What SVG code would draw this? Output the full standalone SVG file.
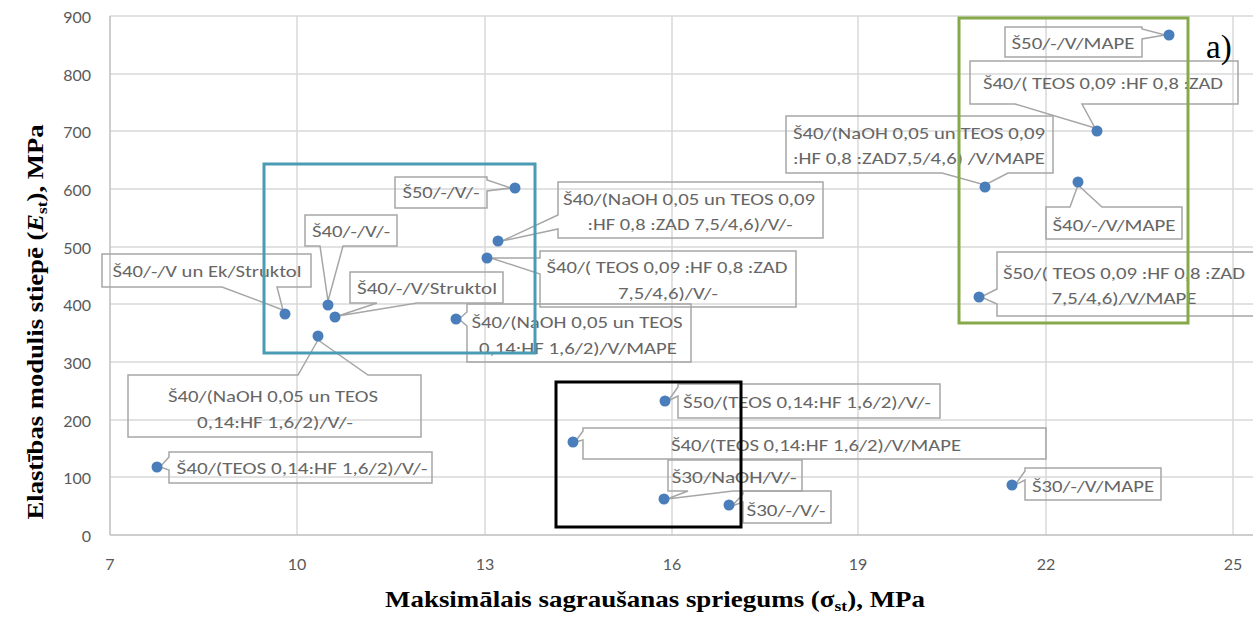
<svg xmlns="http://www.w3.org/2000/svg" width="1253" height="617" viewBox="0 0 1253 617">
<style>
.grid{stroke:#d9d9d9;stroke-width:1.5;fill:none}
.axis{stroke:#bfbfbf;stroke-width:1.5;fill:none}
.tick{font-family:Lato,"Liberation Sans",sans-serif;font-size:16px;fill:#595959}
.call{fill:none;stroke:#a6a6a6;stroke-width:1.5;stroke-linejoin:miter}
.lbl{font-family:Carlito,Lato,"Liberation Sans",sans-serif;font-size:17px;fill:#666666;text-anchor:middle;dominant-baseline:central}
.pt{fill:#4a7ebb}
.title{font-family:"Liberation Serif","Times New Roman",serif;font-weight:bold;font-size:23px;fill:#000}
</style>
<rect width="1253" height="617" fill="#ffffff"/>
<g id="grid">
<path class="grid" d="M110,16H1253M110,74H1253M110,131H1253M110,189H1253M110,247H1253M110,304H1253M110,362H1253M110,420H1253M110,477H1253"/>
<path class="grid" d="M297,16V535M485,16V535M672,16V535M858,16V535M1046,16V535M1233,16V535"/>
<path class="axis" d="M110,16V535M110,535H1253"/>
</g>
<g id="y-ticks" class="tick" text-anchor="end" dominant-baseline="central">
<text x="91" y="16">900</text><text x="91" y="74">800</text><text x="91" y="131">700</text><text x="91" y="189">600</text><text x="91" y="247">500</text><text x="91" y="304">400</text><text x="91" y="362">300</text><text x="91" y="420">200</text><text x="91" y="477">100</text><text x="91" y="535">0</text>
</g>
<g id="x-ticks" class="tick" text-anchor="middle" dominant-baseline="central">
<text x="110" y="563">7</text><text x="297" y="563">10</text><text x="485" y="563">13</text><text x="672" y="563">16</text><text x="858" y="563">19</text><text x="1046" y="563">22</text><text x="1233" y="563">25</text>
</g>
<g id="connectors">
<path class="call" d="M1005,27H1142V29L1165,35L1142,39V57H1005Z"/>
<path class="call" d="M970,61H1238V104H1082L1095,128L1015,104H970Z"/>
<path class="call" d="M786,116H1053V173H1008L985,185L942,173H786Z"/>
<path class="call" d="M1046,207H1070L1078,185L1102,207H1182V239H1046Z"/>
<path class="call" d="M997,252H1262V316H997V304L981,297L997,289Z"/>
<path class="call" d="M395,177H487V180L511,188L487,191V208H395Z"/>
<path class="call" d="M558,182H823V238H558V229L502,241L558,215Z"/>
<path class="call" d="M540,251H796V307H540V274L491,258L540,258Z"/>
<path class="call" d="M467,304H691V362H467V326L459,319L467,312Z"/>
<path class="call" d="M102,254H311V287H277L283,310L222,287H102Z"/>
<path class="call" d="M305,215H397V246H343L328,301L320,246H305Z"/>
<path class="call" d="M350,272H503V303H417L338,316L377,303H350Z"/>
<path class="call" d="M128,375H298L318,340L368,375H421V437H128Z"/>
<path class="call" d="M169,452H432V483H169V470L160,467L169,457Z"/>
<path class="call" d="M678,384H940V418H678V396L668,401L678,387Z"/>
<path class="call" d="M583,428H1046V459H583V440L575,442L583,431Z"/>
<path class="call" d="M668,460H802V491H733L667,499L688,491H668Z"/>
<path class="call" d="M743,491H831V523H743V502L732,506L743,494Z"/>
<path class="call" d="M1025,468H1161V500H1025V480L1015,485L1025,471Z"/>
</g>
<g id="n1"><circle class="pt" cx="1169" cy="35" r="5.5"/><text class="lbl" x="1073" y="43" textLength="123" lengthAdjust="spacingAndGlyphs">Š50/-/V/MAPE</text></g>
<g id="n2"><circle class="pt" cx="1097" cy="131" r="5.5"/><text class="lbl" x="1103" y="83" textLength="240" lengthAdjust="spacingAndGlyphs">Š40/( TEOS 0,09 :HF 0,8 :ZAD</text></g>
<g id="n3"><circle class="pt" cx="985" cy="187" r="5.5"/><text class="lbl" x="919" y="133" textLength="252" lengthAdjust="spacingAndGlyphs">Š40/(NaOH 0,05 un TEOS 0,09</text><text class="lbl" x="919" y="158" textLength="252" lengthAdjust="spacingAndGlyphs">:HF 0,8 :ZAD7,5/4,6) /V/MAPE</text></g>
<g id="n4"><circle class="pt" cx="1078" cy="182" r="5.5"/><text class="lbl" x="1114" y="225" textLength="123" lengthAdjust="spacingAndGlyphs">Š40/-/V/MAPE</text></g>
<g id="n5"><circle class="pt" cx="979" cy="297" r="5.5"/><text class="lbl" x="1124" y="273" textLength="242" lengthAdjust="spacingAndGlyphs">Š50/( TEOS 0,09 :HF 0,8 :ZAD</text><text class="lbl" x="1124" y="298" textLength="145" lengthAdjust="spacingAndGlyphs">7,5/4,6)/V/MAPE</text></g>
<g id="n6"><circle class="pt" cx="515" cy="188" r="5.5"/><text class="lbl" x="441" y="192" textLength="77" lengthAdjust="spacingAndGlyphs">Š50/-/V/-</text></g>
<g id="n7"><circle class="pt" cx="498" cy="241" r="5.5"/><text class="lbl" x="689" y="199" textLength="252" lengthAdjust="spacingAndGlyphs">Š40/(NaOH 0,05 un TEOS 0,09</text><text class="lbl" x="690" y="224" textLength="205" lengthAdjust="spacingAndGlyphs">:HF 0,8 :ZAD 7,5/4,6)/V/-</text></g>
<g id="n8"><circle class="pt" cx="487" cy="258" r="5.5"/><text class="lbl" x="667" y="267" textLength="241" lengthAdjust="spacingAndGlyphs">Š40/( TEOS 0,09 :HF 0,8 :ZAD</text><text class="lbl" x="668" y="293" textLength="100" lengthAdjust="spacingAndGlyphs">7,5/4,6)/V/-</text></g>
<g id="n9"><circle class="pt" cx="456" cy="319" r="5.5"/><text class="lbl" x="577" y="322" textLength="211" lengthAdjust="spacingAndGlyphs">Š40/(NaOH 0,05 un TEOS</text><text class="lbl" x="578" y="348" textLength="198" lengthAdjust="spacingAndGlyphs">0,14:HF 1,6/2)/V/MAPE</text></g>
<g id="n10"><circle class="pt" cx="285" cy="314" r="5.5"/><text class="lbl" x="207" y="271" textLength="189" lengthAdjust="spacingAndGlyphs">Š40/-/V un Ek/Struktol</text></g>
<g id="n11"><circle class="pt" cx="328" cy="305" r="5.5"/><text class="lbl" x="351" y="231" textLength="78" lengthAdjust="spacingAndGlyphs">Š40/-/V/-</text></g>
<g id="n12"><circle class="pt" cx="335" cy="317" r="5.5"/><text class="lbl" x="427" y="288" textLength="140" lengthAdjust="spacingAndGlyphs">Š40/-/V/Struktol</text></g>
<g id="n13"><circle class="pt" cx="318" cy="336" r="5.5"/><text class="lbl" x="273" y="396" textLength="210" lengthAdjust="spacingAndGlyphs">Š40/(NaOH 0,05 un TEOS</text><text class="lbl" x="275" y="422" textLength="156" lengthAdjust="spacingAndGlyphs">0,14:HF 1,6/2)/V/-</text></g>
<g id="n14"><circle class="pt" cx="157" cy="467" r="5.5"/><text class="lbl" x="302" y="468" textLength="251" lengthAdjust="spacingAndGlyphs">Š40/(TEOS 0,14:HF 1,6/2)/V/-</text></g>
<g id="n15"><circle class="pt" cx="665" cy="401" r="5.5"/><text class="lbl" x="807" y="402" textLength="248" lengthAdjust="spacingAndGlyphs">Š50/(TEOS 0,14:HF 1,6/2)/V/-</text></g>
<g id="n16"><circle class="pt" cx="573" cy="442" r="5.5"/><text class="lbl" x="816" y="445" textLength="290" lengthAdjust="spacingAndGlyphs">Š40/(TEOS 0,14:HF 1,6/2)/V/MAPE</text></g>
<g id="n17"><circle class="pt" cx="664" cy="499" r="5.5"/><text class="lbl" x="734" y="477" textLength="125" lengthAdjust="spacingAndGlyphs">Š30/NaOH/V/-</text></g>
<g id="n18"><circle class="pt" cx="729" cy="505" r="5.5"/><text class="lbl" x="786" y="510" textLength="79" lengthAdjust="spacingAndGlyphs">Š30/-/V/-</text></g>
<g id="n19"><circle class="pt" cx="1012" cy="485" r="5.5"/><text class="lbl" x="1093" y="486" textLength="122" lengthAdjust="spacingAndGlyphs">Š30/-/V/MAPE</text></g>
<g id="groups" fill="none" stroke-width="3">
<rect x="264" y="164" width="271" height="189" stroke="#4a9bb4"/>
<rect x="959" y="18" width="229" height="305" stroke="#86a94a"/>
<rect x="556" y="382" width="185" height="145" stroke="#000000"/>
</g>
<text x="1206" y="58" font-family="'Liberation Serif','Times New Roman',serif" font-size="33" fill="#000">a)</text>
<text class="title" x="655" y="607" text-anchor="middle" textLength="540" lengthAdjust="spacingAndGlyphs">Maksimālais sagraušanas spriegums (σ<tspan font-size="15" baseline-shift="-4">st</tspan>), MPa</text>
<text class="title" transform="translate(43,322) rotate(-90)" text-anchor="middle" textLength="395" lengthAdjust="spacingAndGlyphs">Elastības modulis stiepē (<tspan font-style="italic">E</tspan><tspan font-size="15" baseline-shift="-4">st</tspan>), MPa</text>
</svg>
